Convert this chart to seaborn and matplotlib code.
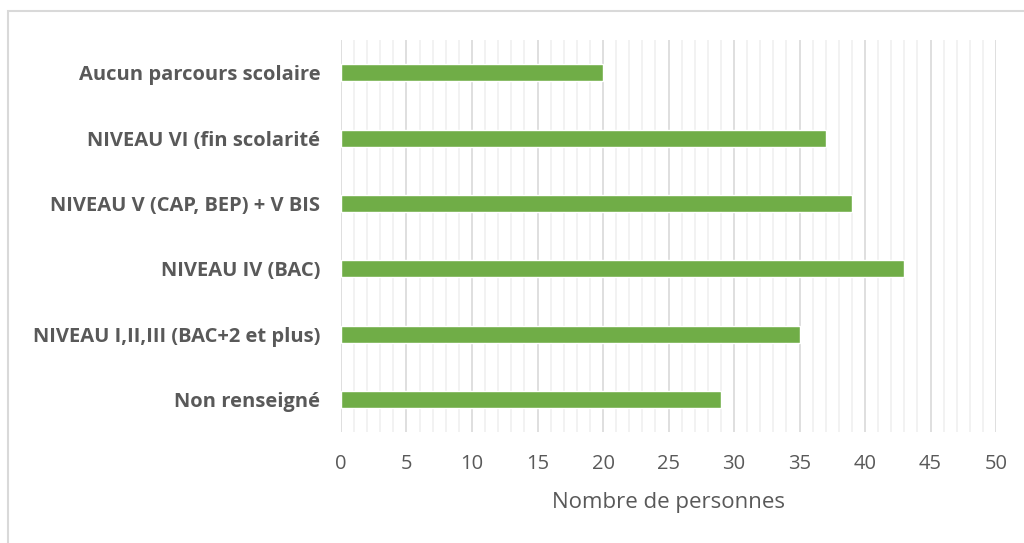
import matplotlib
matplotlib.use('Agg')
import matplotlib.pyplot as plt
from matplotlib.patches import Rectangle
from matplotlib.ticker import MultipleLocator
import seaborn as sns
import pandas as pd

# Data
categories = [
    'Aucun parcours scolaire',
    'NIVEAU VI (fin scolarité',
    'NIVEAU V (CAP, BEP) + V BIS',
    'NIVEAU IV (BAC)',
    'NIVEAU I,II,III (BAC+2 et plus)',
    'Non renseigné',
]
counts = [20, 37, 39, 43, 35, 29]

df = pd.DataFrame({'niveau': categories, 'personnes': counts})

sns.set_style('white')
plt.rcParams['font.family'] = ['Open Sans', 'DejaVu Sans']

fig = plt.figure(figsize=(10.24, 5.43), dpi=100)
ax = fig.add_axes([0.333, 0.2044, 0.6397, 0.7219])

sns.barplot(data=df, x='personnes', y='niveau', color='#70AD47',
            width=0.26, saturation=1, ax=ax, zorder=3)

ax.set_xlim(0, 50)
ax.set_ylim(5.5, -0.5)
ax.xaxis.set_major_locator(MultipleLocator(5))
ax.xaxis.set_minor_locator(MultipleLocator(1))
ax.grid(axis='x', which='major', color='#d9d9d9', linewidth=1.2, zorder=0)
ax.grid(axis='x', which='minor', color='#f0f0f0', linewidth=1.2, zorder=0)
ax.grid(axis='y', visible=False)
for s in ax.spines.values():
    s.set_visible(False)

ax.tick_params(axis='x', which='both', length=0, labelsize=14.5,
               labelcolor='#595959', pad=16)
ax.tick_params(axis='y', length=0, labelsize=14.5, labelcolor='#595959', pad=15)
for lbl in ax.get_yticklabels():
    lbl.set_fontweight('bold')

ax.set_ylabel('')
ax.set_xlabel('Nombre de personnes', fontsize=16, color='#595959', labelpad=13)

# light frame around the chart area
fig.patches.append(Rectangle((8 / 1024, -0.1), 1.1, 1 - 11 / 543 + 0.1,
                             transform=fig.transFigure, fill=False,
                             edgecolor='#d9d9d9', linewidth=1.5))

fig.savefig('out.png', dpi=100)
